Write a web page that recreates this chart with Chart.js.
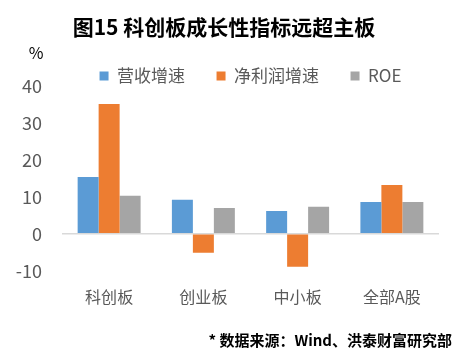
<!DOCTYPE html>
<html>
<head>
<meta charset="utf-8">
<script src="https://cdn.jsdelivr.net/npm/chart.js@4.4.1/dist/chart.umd.min.js"></script>
<style>
  html, body { margin: 0; padding: 0; background: #fff; }
  #wrap { width: 471px; height: 356px; position: relative; }
</style>
</head>
<body>
<div id="wrap"><canvas id="c" width="471" height="356"></canvas></div>
<script>
const categories = ['科创板', '创业板', '中小板', '全部A股'];
const seriesNames = ['营收增速', '净利润增速', 'ROE'];
const revenueGrowth = [15.4, 9.2, 6.2, 8.6];
const profitGrowth = [35.1, -5.1, -8.9, 13.2];
const roe = [10.3, 7.0, 7.3, 8.6];
const yTicks = [-10, 0, 10, 20, 30, 40];
const titleText = '图15 科创板成长性指标远超主板';
const unitText = '%';
const sourceText = '* 数据来源：Wind、洪泰财富研究部';

const FONT = "'Noto Sans CJK SC', 'Noto Sans', sans-serif";
const colors = ['#5B9BD5', '#ED7D31', '#A5A5A5'];

const textPlugin = {
  id: 'texts',
  afterLayout(chart) {
    const lg = chart.legend;
    const ca = chart.chartArea;
    if (lg && ca) {
      const h = lg.bottom - lg.top;
      lg.top = 36;
      lg.bottom = 36 + h;
      const dx = (ca.left + ca.right) / 2 - (lg.left + lg.right) / 2;
      lg.left += dx;
      lg.right += dx;
    }
  },
  afterDraw(chart) {
    const ctx = chart.ctx;
    ctx.save();
    ctx.fillStyle = '#000';
    ctx.textBaseline = 'middle';
    ctx.textAlign = 'center';
    ctx.font = 'bold 21px ' + FONT;
    ctx.fillText(titleText, 224, 27);
    ctx.font = '16px ' + FONT;
    ctx.fillText(unitText, 36, 53);
    ctx.textAlign = 'right';
    ctx.font = 'bold 15px ' + FONT;
    ctx.fillText(sourceText, 452, 340);
    ctx.restore();
  }
};

new Chart(document.getElementById('c'), {
  type: 'bar',
  data: {
    labels: categories,
    datasets: [
      { label: seriesNames[0], data: revenueGrowth, backgroundColor: colors[0] },
      { label: seriesNames[1], data: profitGrowth, backgroundColor: colors[1] },
      { label: seriesNames[2], data: roe, backgroundColor: colors[2] }
    ]
  },
  options: {
    responsive: false,
    animation: false,
    devicePixelRatio: 1,
    layout: { padding: { top: 27.5, left: 0, right: 32, bottom: 32 } },
    datasets: { bar: { categoryPercentage: 0.668, barPercentage: 1.0 } },
    plugins: {
      title: { display: false },
      tooltip: { enabled: false },
      legend: {
        position: 'top',
        align: 'center',
        labels: {
          boxWidth: 9,
          boxHeight: 9,
          padding: 31.5,
          color: '#595959',
          font: { family: FONT, size: 17 }
        }
      }
    },
    scales: {
      x: {
        grid: { display: false, drawTicks: false },
        border: { display: false },
        ticks: {
          color: '#595959',
          font: { family: FONT, size: 16 },
          padding: 17,
          maxRotation: 0,
          autoSkip: false
        }
      },
      y: {
        min: yTicks[0],
        max: yTicks[yTicks.length - 1],
        afterFit(scale) { scale.width = 62; },
        afterBuildTicks(scale) { scale.ticks = yTicks.map(v => ({ value: v })); },
        grid: {
          drawTicks: false,
          lineWidth: 1.5,
          color: (c) => (c.tick && c.tick.value === 0 ? '#D9D9D9' : 'rgba(0,0,0,0)')
        },
        border: { display: false },
        ticks: {
          color: '#595959',
          font: { family: FONT, size: 18 },
          padding: 20
        }
      }
    }
  },
  plugins: [textPlugin]
});
</script>
</body>
</html>
